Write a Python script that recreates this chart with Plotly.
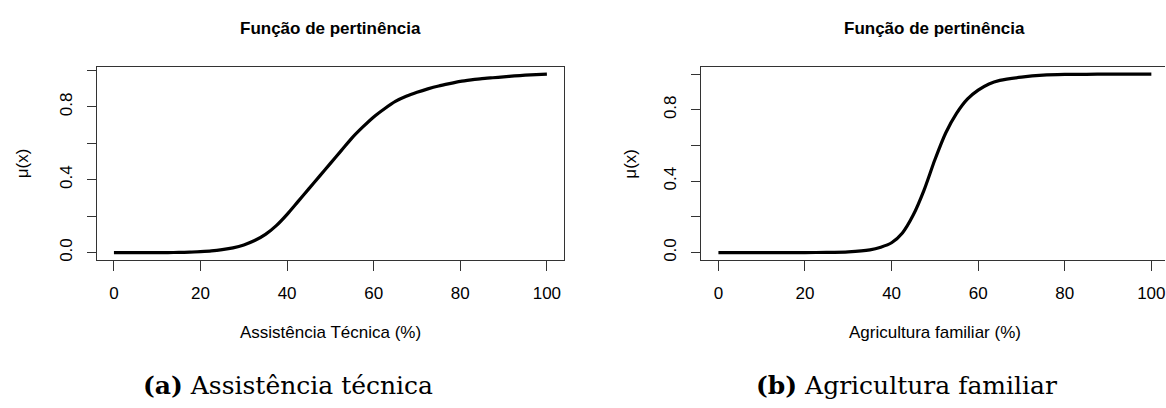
import plotly.graph_objects as go

# ---- data ----
x_assist = [0, 2.5, 5, 7.5, 10, 12.5, 15, 17.5, 20, 22.5, 25, 27.5, 30, 32.5, 35, 37.5, 40, 42.5,
            45, 47.5, 50, 52.5, 55, 57.5, 60, 62.5, 65, 67.5, 70, 72.5, 75, 77.5, 80, 82.5, 85,
            87.5, 90, 92.5, 95, 97.5, 100]
mu_assist = [0, 0, 0, 0, 0, 0, 0.001, 0.002, 0.005, 0.009, 0.016, 0.026, 0.042, 0.066, 0.1, 0.148,
             0.21, 0.28, 0.35, 0.42, 0.49, 0.56, 0.63, 0.69, 0.745, 0.79, 0.83, 0.858, 0.88, 0.899,
             0.915, 0.928, 0.94, 0.948, 0.955, 0.96, 0.965, 0.97, 0.974, 0.977, 0.98]

x_agri = [0, 5, 10, 15, 20, 25, 30, 35, 37.5, 40, 42.5, 45, 47.5, 50, 52.5, 55, 57.5, 60,
          62.5, 65, 70, 75, 80, 85, 90, 95, 100]
mu_agri = [0, 0, 0, 0, 0, 0.001, 0.004, 0.015, 0.03, 0.055, 0.11, 0.21, 0.35, 0.52, 0.67,
           0.78, 0.86, 0.91, 0.945, 0.965, 0.983, 0.994, 0.998, 0.999, 1.0, 1.0, 1.0]

x_ticks = [0, 20, 40, 60, 80, 100]
y_ticks = [0, 0.2, 0.4, 0.6, 0.8, 1.0]
y_ticktext = ["0.0", "", "0.4", "", "0.8", ""]

titles = ["Função de pertinência", "Função de pertinência"]
x_titles = ["Assistência Técnica (%)", "Agricultura familiar (%)"]
y_title = "μ(x)"
captions = ["<b>(a)</b> Assistência técnica", "<b>(b)</b> Agricultura familiar"]

W, H = 1166, 408
SANS = "Liberation Sans, Arial, sans-serif"
AX = "#333333"

fig = go.Figure()
fig.add_trace(go.Scatter(x=x_assist, y=mu_assist, mode="lines",
                         line=dict(color="black", width=3.2, shape="spline", smoothing=0.6),
                         xaxis="x", yaxis="y", showlegend=False))
fig.add_trace(go.Scatter(x=x_agri, y=mu_agri, mode="lines",
                         line=dict(color="black", width=3.2, shape="spline", smoothing=0.6),
                         xaxis="x2", yaxis="y2", showlegend=False))

def px(v):
    return v / W

def py(v):
    return 1 - v / H

box_top, box_bot = 67.3, 261.0
common_x = dict(tickmode="array", tickvals=x_ticks, ticks="outside", ticklen=10, tickcolor=AX,
                tickwidth=1, showline=True, linecolor=AX, linewidth=1, showgrid=False, zeroline=False,
                tickfont=dict(family=SANS, size=17, color="black"), ticklabelstandoff=8,
                ticklabeloverflow="allow")
common_y = dict(tickmode="array", tickvals=y_ticks, ticktext=y_ticktext, ticks="outside", ticklen=9,
                tickcolor=AX, tickwidth=1, showline=True, linecolor=AX, linewidth=1, showgrid=False,
                zeroline=False, tickangle=-90, tickfont=dict(family=SANS, size=17, color="black"),
                ticklabelstandoff=8)

fig.update_layout(
    xaxis=dict(domain=[px(96.7), px(564.7)], range=[-4, 104], anchor="y", mirror=True, **common_x),
    yaxis=dict(domain=[py(box_bot), py(box_top)], range=[-0.0392, 1.0192], anchor="x", mirror=True, **common_y),
    xaxis2=dict(domain=[px(701.7), 1.0], range=[-4, -4 + (W - 701.7) / 4.333], anchor="y2", mirror=True, **common_x),
    yaxis2=dict(domain=[py(box_bot), py(box_top)], range=[-0.04, 1.04], anchor="x2", mirror=False, **common_y),
)

ann = []
centers = [330.7, 935.7]
ylab_x = [22, 631]
cap_x = [288.4, 907]
for i in range(2):
    ann.append(dict(text="<b>" + titles[i] + "</b>", x=px(centers[i]), y=py(28.5), xref="paper", yref="paper",
                    xanchor="center", yanchor="middle", showarrow=False,
                    font=dict(family=SANS, size=17, color="black")))
    ann.append(dict(text=x_titles[i], x=px(centers[i]), y=py(334.5), xref="paper", yref="paper",
                    xanchor="center", yanchor="middle", showarrow=False,
                    font=dict(family=SANS, size=17, color="black")))
    ann.append(dict(text=y_title, x=px(ylab_x[i]), y=py(164), xref="paper", yref="paper",
                    xanchor="center", yanchor="middle", showarrow=False, textangle=-90,
                    font=dict(family=SANS, size=17, color="black")))
    ann.append(dict(text=captions[i], x=px(cap_x[i]), y=py(387), xref="paper", yref="paper",
                    xanchor="center", yanchor="middle", showarrow=False,
                    font=dict(family="DejaVu Serif, serif", size=25, color="black")))

fig.update_layout(width=W, height=H, margin=dict(l=0, r=0, t=0, b=0), paper_bgcolor="white",
                  plot_bgcolor="white", annotations=ann, showlegend=False)

fig.write_html("out.html", config={"displayModeBar": False})
